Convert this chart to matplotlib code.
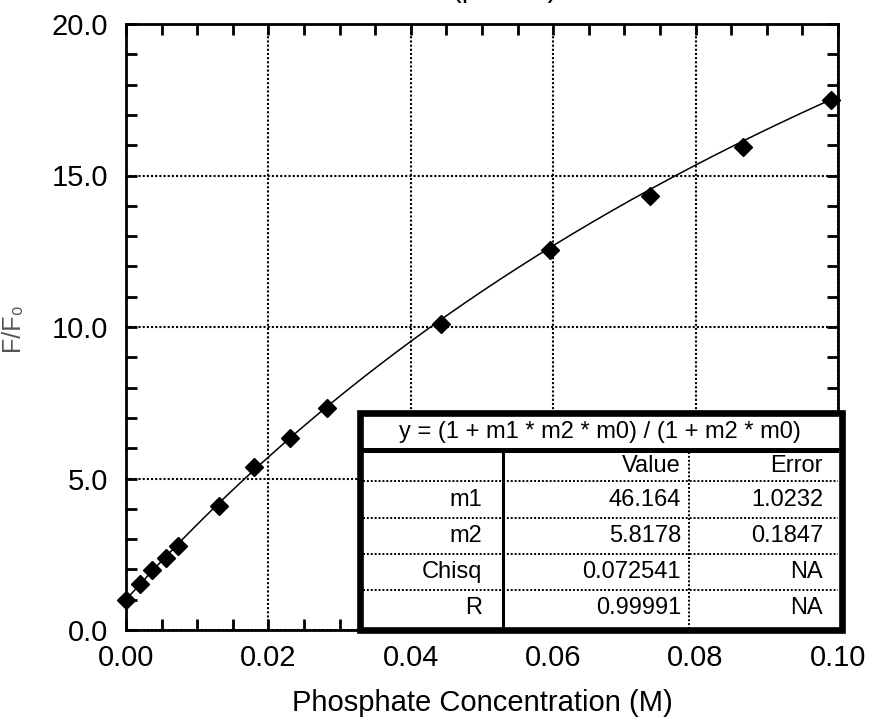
import numpy as np
import matplotlib
matplotlib.use("Agg")
import matplotlib.pyplot as plt
from matplotlib.ticker import MultipleLocator, FormatStrFormatter
from matplotlib.patches import Rectangle

plt.rcParams['font.family'] = ['Liberation Sans', 'DejaVu Sans']

# Data
conc = [0.0, 0.002, 0.0036, 0.0056, 0.0073, 0.0130, 0.0180, 0.0230, 0.0282,
        0.0442, 0.0595, 0.0736, 0.0866, 0.0990]
ratio = [1.0, 1.52, 1.97, 2.39, 2.77, 4.10, 5.37, 6.35, 7.34,
         10.1, 12.54, 14.33, 15.93, 17.49]

# Fit results (shown in the table)
m1_val, m2_val = 46.164, 5.8178
fit_title = "y = (1 + m1 * m2 * m0) / (1 + m2 * m0)"
col_heads = ["", "Value", "Error"]
row_names = ["m1", "m2", "Chisq", "R"]
row_values = ["46.164", "5.8178", "0.072541", "0.99991"]
row_errors = ["1.0232", "0.1847", "NA", "NA"]

W, H = 873, 723
fig = plt.figure(figsize=(W / 100, H / 100), dpi=100)
ax = fig.add_axes([126 / W, (H - 630) / H, 712 / W, 606 / H])

xf = np.linspace(min(conc), max(conc), 300)
yf = (1 + m1_val * m2_val * xf) / (1 + m2_val * xf)
ax.plot(xf, yf, color='black', lw=1.1, zorder=3)
ax.plot(conc, ratio, linestyle='none', marker='D', markersize=9.5,
        color='black', zorder=4, clip_on=False)

ax.set_xlim(0, 0.10)
ax.set_ylim(0, 20)
ax.xaxis.set_major_locator(MultipleLocator(0.02))
ax.xaxis.set_minor_locator(MultipleLocator(0.005))
ax.yaxis.set_major_locator(MultipleLocator(5))
ax.yaxis.set_minor_locator(MultipleLocator(1))
ax.xaxis.set_major_formatter(FormatStrFormatter('%.2f'))
ax.yaxis.set_major_formatter(FormatStrFormatter('%.1f'))
ax.tick_params(which='both', direction='in', top=True, right=True,
               width=2, color='black')
ax.tick_params(which='minor', length=8)
ax.tick_params(which='major', length=8, labelsize=21)
ax.tick_params(axis='y', which='major', pad=13)
ax.tick_params(axis='x', which='major', pad=10)
for s in ax.spines.values():
    s.set_linewidth(2)
    s.set_color('black')
ax.grid(True, which='major', color='black', lw=1.5, linestyle=(0, (1, 1)))
ax.set_axisbelow(True)

ax.set_xlabel("Phosphate Concentration (M)", fontsize=21)
ax.xaxis.set_label_coords(0.5, -0.098)
ax.set_ylabel("F/F\u2080", fontsize=18, color='#555555')
ax.yaxis.set_label_coords(-0.143, 0.5)

fig.text(505 / W, 1 + 3 / H, "(pH 7.0)", ha='center', va='baseline', fontsize=21)

# Fit-results table
tax = fig.add_axes([356 / W, (H - 633) / H, (845 - 356) / W, (633 - 410) / H])
tax.set_xlim(356, 845)
tax.set_ylim(633, 410)
tax.axis('off')
tax.add_patch(Rectangle((359.5, 413), 482, 217, facecolor='white',
                        edgecolor='black', lw=4.8, clip_on=False, zorder=2))
tax.plot([362, 839], [450, 450], color='black', lw=3.6, solid_capstyle='butt', zorder=3)
tax.plot([503, 503], [450, 628], color='black', lw=2.2, solid_capstyle='butt', zorder=3)
tax.plot([689, 689], [452, 628], color='black', lw=1.4, linestyle=(0, (1, 1)), zorder=3)
for yl in [481, 518, 554, 590]:
    tax.plot([363, 838], [yl, yl], color='black', lw=1.4, linestyle=(0, (1, 1)), zorder=3)

tfs = 17
tax.text(600, 432, fit_title, ha='center', va='center', fontsize=tfs, zorder=4)
row_y = [466, 499.5, 536, 572, 608.5]
xr = [482, 681, 823]
for j, h in enumerate(col_heads):
    tax.text(xr[j], row_y[0], h, ha='right', va='center', fontsize=tfs, zorder=4)
for i in range(len(row_names)):
    tax.text(xr[0], row_y[i + 1], row_names[i], ha='right', va='center', fontsize=tfs, zorder=4)
    tax.text(xr[1], row_y[i + 1], row_values[i], ha='right', va='center', fontsize=tfs, zorder=4)
    tax.text(xr[2], row_y[i + 1], row_errors[i], ha='right', va='center', fontsize=tfs, zorder=4)

fig.savefig("out.png", dpi=100)
